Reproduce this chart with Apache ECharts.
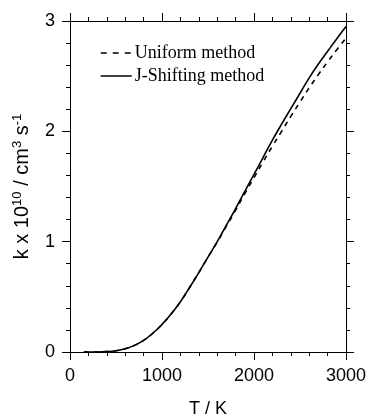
<!DOCTYPE html>
<html>
<head>
<meta charset="utf-8">
<script src="https://cdn.jsdelivr.net/npm/echarts@6/dist/echarts.min.js"></script>
<style>html,body{margin:0;padding:0;background:#fff}#c{width:369px;height:418px}</style>
</head>
<body>
<div id="c"></div>
<script>
const temps = [150, 200, 300, 400, 500, 600, 700, 800, 900, 1000, 1100, 1200, 1300, 1400, 1500, 1600, 1700, 1800, 1900, 2000, 2100, 2200, 2300, 2400, 2500, 2600, 2700, 2800, 2900, 3000];
const jShifting = [0.0, 0.0, 0.0, 0.003, 0.012, 0.03, 0.06, 0.105, 0.17, 0.25, 0.345, 0.455, 0.585, 0.72, 0.86, 1.0, 1.15, 1.3, 1.455, 1.61, 1.765, 1.92, 2.065, 2.205, 2.345, 2.485, 2.61, 2.725, 2.84, 2.95];
const uniform = [0.0, 0.0, 0.0, 0.003, 0.012, 0.03, 0.06, 0.105, 0.17, 0.25, 0.345, 0.455, 0.585, 0.72, 0.86, 0.995, 1.14, 1.285, 1.435, 1.58, 1.725, 1.865, 2.0, 2.135, 2.265, 2.395, 2.515, 2.63, 2.74, 2.845];
const xTicks = [0, 1000, 2000, 3000];
const yTicks = [0, 1, 2, 3];
const seriesNames = ['Uniform method', 'J-Shifting method'];

const chart = echarts.init(document.getElementById('c'), null, {renderer: 'canvas'});
const black = '#000';
const axisCommon = {
  axisLine: {show: true, onZero: false, lineStyle: {color: black, width: 1}},
  axisTick: {show: true, inside: false, length: 8, lineStyle: {color: black, width: 1}},
  minorTick: {show: true, splitNumber: 5, length: 4, lineStyle: {color: black, width: 1}},
  splitLine: {show: false},
  minorSplitLine: {show: false}
};
chart.setOption({
  animation: false,
  backgroundColor: '#fff',
  grid: {left: 70, right: 23, top: 21, bottom: 66, containLabel: false, outerBoundsMode: 'none'},
  legend: {
    orient: 'vertical', left: 95, top: 39,
    itemWidth: 31, itemHeight: 14, itemGap: 5,
    data: [
      {name: seriesNames[0], lineStyle: {type: [6, 6], width: 1.5, color: black}},
      {name: seriesNames[1], lineStyle: {type: 'solid', width: 1.5, color: black}}
    ],
    itemStyle: {opacity: 0},
    textStyle: {fontFamily: 'Liberation Serif', fontSize: 18, color: black, padding: [0, 0, 0, -2]}
  },
  xAxis: [
    Object.assign({type: 'value', position: 'bottom', min: xTicks[0], max: xTicks[xTicks.length-1], interval: 1000,
      axisLabel: {show: true, margin: 15, fontFamily: 'Liberation Sans', fontSize: 18, color: black, formatter: v => String(v)},
      name: 'T / K', nameLocation: 'middle', nameGap: 48,
      nameTextStyle: {fontFamily: 'Liberation Sans', fontSize: 18, color: black}}, axisCommon),
    Object.assign({type: 'value', position: 'top', min: xTicks[0], max: xTicks[xTicks.length-1], interval: 1000,
      axisLabel: {show: false}}, axisCommon)
  ],
  yAxis: [
    Object.assign({type: 'value', position: 'left', min: yTicks[0], max: yTicks[yTicks.length-1], interval: 1,
      axisLabel: {show: true, margin: 15, fontFamily: 'Liberation Sans', fontSize: 18, color: black, formatter: v => String(v)},
      name: 'k x 10{sup|10} / cm{sup|3} s{sup|-1}', nameLocation: 'middle', nameGap: 36,
      nameTextStyle: {fontFamily: 'Liberation Sans', fontSize: 20, color: black,
        rich: {sup: {fontFamily: 'Liberation Sans', fontSize: 13, color: black, padding: [0, 0, 10, 0]}}}}, axisCommon),
    Object.assign({type: 'value', position: 'right', min: yTicks[0], max: yTicks[yTicks.length-1], interval: 1,
      axisLabel: {show: false}}, axisCommon)
  ],
  series: [
    {name: seriesNames[0], type: 'line', data: temps.map((t, i) => [t, uniform[i]]),
      symbol: 'none', smooth: true,
      lineStyle: {color: black, width: 1.6, type: [5, 5]}, itemStyle: {color: black}},
    {name: seriesNames[1], type: 'line', data: temps.map((t, i) => [t, jShifting[i]]),
      symbol: 'none', smooth: true,
      lineStyle: {color: black, width: 1.6, type: 'solid'}, itemStyle: {color: black}}
  ]
});
</script>
</body>
</html>
